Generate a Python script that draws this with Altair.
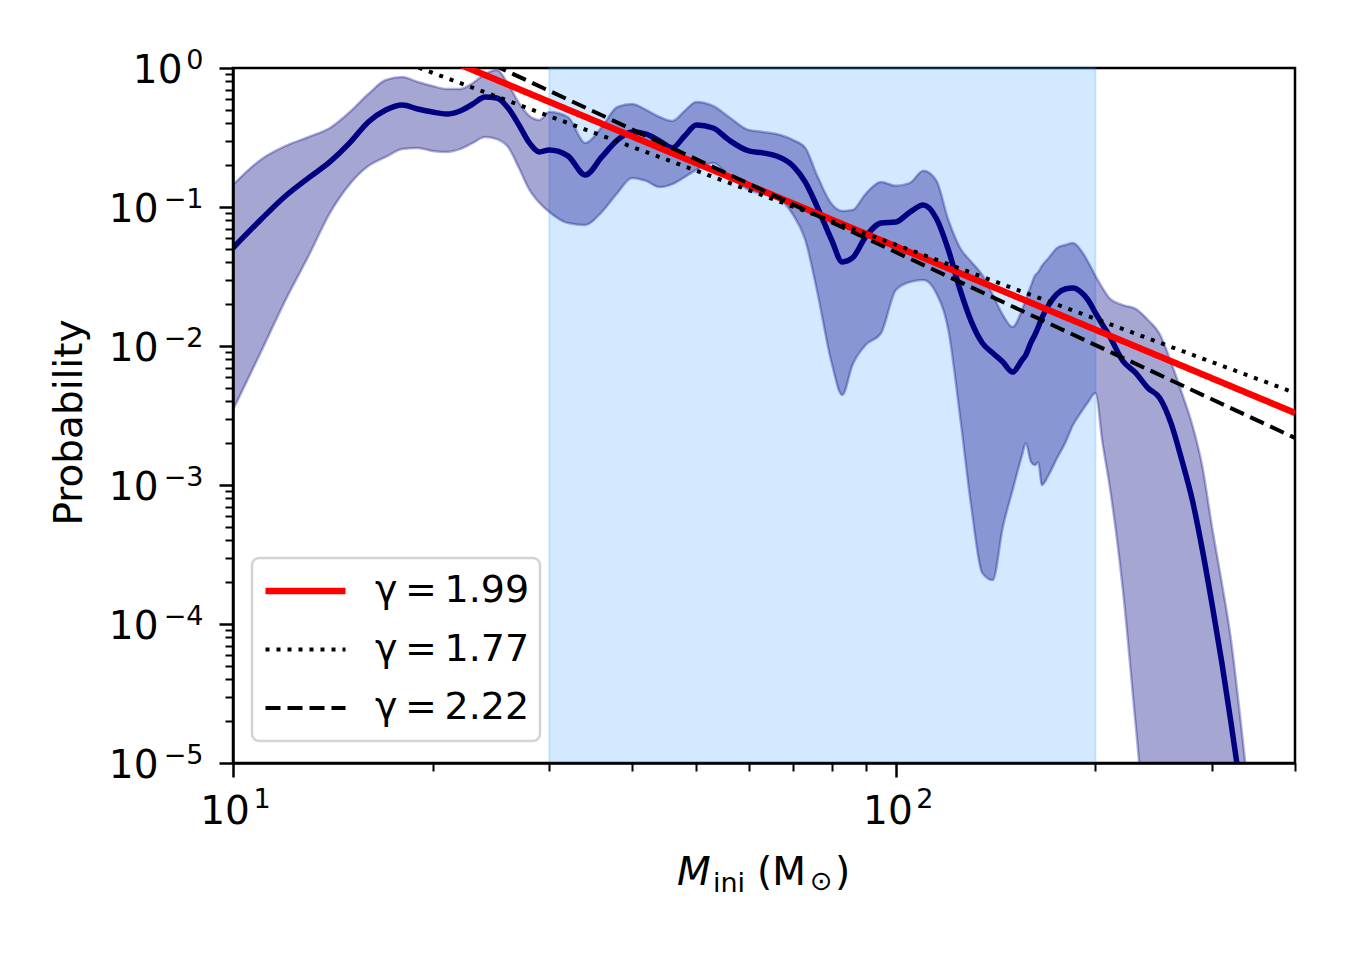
import math
import altair as alt
import pandas as pd

# ---------------- data ----------------
mass = [10, 11, 12, 13, 14, 15, 16, 17, 18, 19, 20, 21, 22, 23, 24, 25, 26, 27, 28, 29,
        30, 32, 34, 36, 38, 40, 42, 44, 46, 48, 50, 53, 56, 60, 63, 66, 70, 73, 76, 80,
        83, 86, 90, 95, 100, 105, 110, 115, 120, 125, 130, 135, 140, 145, 150, 155, 157,
        160, 162, 164, 166, 170, 175, 180, 185, 190, 195, 200, 205, 210, 220, 230, 240,
        250, 260, 270, 280, 290, 300, 310, 320, 330, 340]

median = [0.0507, 0.0806, 0.120, 0.162, 0.211, 0.289, 0.409, 0.499, 0.542, 0.507,
          0.482, 0.467, 0.491, 0.551, 0.618, 0.608, 0.515, 0.389, 0.289, 0.249,
          0.257, 0.233, 0.170, 0.229, 0.303, 0.347, 0.335, 0.299, 0.266, 0.324,
          0.389, 0.370, 0.303, 0.253, 0.245, 0.233, 0.197, 0.151, 0.1016, 0.0579,
          0.0402, 0.0430, 0.0608, 0.0767, 0.0780, 0.0920, 0.1033, 0.0834, 0.0491, 0.0253,
          0.0149, 0.0105, 0.0089, 0.00767, 0.00650, 0.00793, 0.00861,
          0.0107, 0.0120, 0.0137, 0.0159, 0.0197, 0.0237, 0.0257, 0.0261, 0.0245, 0.0214,
          0.0173, 0.0142, 0.0118, 0.0078, 0.0064, 0.00499,
          0.00423, 0.00279, 0.00151, 7.8e-4, 3.4e-4, 1.37e-4, 5.4e-5, 2.0e-5, 7.3e-6, 2.6e-6]

upper = [0.144, 0.218, 0.275, 0.319, 0.370, 0.482, 0.650, 0.820, 0.861, 0.793,
         0.742, 0.706, 0.706, 0.780, 0.905, 0.967, 0.767, 0.560, 0.452, 0.423,
         0.482, 0.444, 0.289, 0.376, 0.524, 0.551, 0.499, 0.444, 0.416, 0.491,
         0.569, 0.533, 0.444, 0.358, 0.347, 0.335, 0.303, 0.266, 0.170, 0.105,
         0.0936, 0.0951, 0.124, 0.151, 0.142, 0.149, 0.182, 0.156, 0.0806, 0.0507,
         0.0402, 0.0324, 0.0233, 0.0167, 0.0137, 0.0182, 0.0214,
         0.0275, 0.0319, 0.0341, 0.0376, 0.0430, 0.0507, 0.0533, 0.0551, 0.0491, 0.0402,
         0.0319, 0.0261, 0.0221, 0.0197, 0.0185, 0.0154,
         0.0122, 0.00767, 0.00459, 0.00270, 0.00135, 4.91e-4, 2.01e-4, 7.9e-5, 2.33e-5, 6.4e-6]

lower = [0.00347, 0.00891, 0.0214, 0.0444, 0.0905, 0.146, 0.197, 0.229, 0.261, 0.266,
         0.253, 0.249, 0.261, 0.289, 0.319, 0.308, 0.270, 0.191, 0.133, 0.107,
         0.0920, 0.0767, 0.0743, 0.0920, 0.126, 0.162, 0.154, 0.139, 0.146, 0.164,
         0.185, 0.207, 0.167, 0.133, 0.124, 0.118, 0.0876, 0.0579, 0.0253, 0.00755,
         0.00444, 0.00730, 0.01016, 0.0124, 0.0253, 0.0289, 0.0298, 0.0241, 0.0130, 0.00308,
         6.84e-4, 2.33e-4, 2.07e-4, 4.99e-4, 9.2e-4, 0.00164, 0.00200,
         0.00146, 0.00139, 0.00146, 0.00100, 0.00118, 0.00156, 0.00200, 0.00270, 0.00330, 0.00395,
         0.00459, 0.00200, 0.00100, 1.76e-4, 1.88e-5, 2.4e-6,
         1.0e-6, 5e-7, 3e-7, 2e-7, 1.5e-7, 1e-7, 8e-8, 6e-8, 5e-8, 4e-8]

span_lo, span_hi = 30, 200

gamma_labels = ["γ\u2009=\u20091.99", "γ\u2009=\u20091.77", "γ\u2009=\u20092.22"]
line_mass = [10, 400]
line_red = [5.08, 3.30e-3]     # gamma = 1.99
line_dot = [3.15, 4.60e-3]     # gamma = 1.77
line_dash = [7.85, 2.18e-3]    # gamma = 2.22

x_major = [10, 100]
x_major_base = ["10", "10"]
x_major_exp = ["1", "2"]
x_minor = [20, 30, 40, 50, 60, 70, 80, 90, 200, 300, 400]
y_major = [1e-5, 1e-4, 1e-3, 1e-2, 1e-1, 1]
y_major_base = ["10", "10", "10", "10", "10", "10"]
y_major_exp = ["\u22125", "\u22124", "\u22123", "\u22122", "\u22121", "0"]
y_minor = [k * 10.0 ** e for e in range(-5, 0) for k in range(2, 10)]

# ---------------- tables ----------------
assert len(mass) == len(median) == len(upper) == len(lower)
band = pd.DataFrame({"mass": mass, "median": median, "upper": upper, "lower": lower})
span = pd.DataFrame({"lo": [span_lo], "hi": [span_hi]})
fits = pd.DataFrame({
    "label": [gamma_labels[0]] * 2 + [gamma_labels[1]] * 2 + [gamma_labels[2]] * 2,
    "mass": line_mass * 3,
    "prob": line_red + line_dot + line_dash,
})

W, H = 1062, 695
FONT = "DejaVu Sans"


def label_expr(values, labels):
    parts = [f"abs(log(datum.value)/LN10 - ({math.log10(v):.4f})) < 0.01 ? '{l}' : "
             for v, l in zip(values, labels)]
    return "".join(parts) + "''"


xscale = alt.Scale(type="log", domain=[10, 400], nice=False)
yscale = alt.Scale(type="log", domain=[1e-5, 1], nice=False)

common = dict(grid=False, title=None, zindex=1, labelFont=FONT, labelColor="black",
              labelFlush=False, labelOverlap=False)

# major ticks + "10" mantissas
x_axis_major = alt.Axis(values=x_major, labelExpr=label_expr(x_major, x_major_base),
                        orient="bottom", tickSize=14, tickWidth=2.5, tickColor="black",
                        domain=True, domainColor="black", domainWidth=2.5,
                        labelFontSize=39, labelPadding=15, labelOffset=-8.5,
                        labelAlign="center", labelBaseline="top", **common)
y_axis_major = alt.Axis(values=y_major, labelExpr=label_expr(y_major, y_major_base),
                        orient="left", tickSize=14, tickWidth=2.5, tickColor="black",
                        domain=True, domainColor="black", domainWidth=2.5,
                        labelFontSize=39, labelAlign="right", labelBaseline="middle",
                        labelOffset=2,
                        labelPadding={"condition": {"test": "datum.value > 0.5", "value": 37},
                                      "value": 61},
                        grid=False, zindex=1, labelFont=FONT, labelColor="black",
                        labelFlush=False, labelOverlap=False,
                        title="Probability", titleFont=FONT,
                        titleFontSize=39, titleFontWeight="normal", titleColor="black",
                        titleAngle=270, titleX=-164, titleY=354, titleAlign="center",
                        titleBaseline="middle")
# minor ticks
x_axis_minor = alt.Axis(values=x_minor, orient="bottom", labels=False, tickSize=8,
                        tickWidth=2, tickColor="black", domain=False, grid=False,
                        title=None, zindex=1)
y_axis_minor = alt.Axis(values=y_minor, orient="left", labels=False, tickSize=8,
                        tickWidth=2, tickColor="black", domain=False, grid=False,
                        title=None, zindex=1)
# exponents (superscripts)
x_axis_exp = alt.Axis(values=x_major, labelExpr=label_expr(x_major, x_major_exp),
                      orient="bottom", ticks=False, tickSize=0, domain=False,
                      labelFontSize=27, labelPadding=23, labelOffset=28.5,
                      labelAlign="center", labelBaseline="top", **common)
y_axis_exp = alt.Axis(values=y_major, labelExpr=label_expr(y_major, y_major_exp),
                      orient="left", ticks=False, tickSize=0, domain=False,
                      labelFontSize=27, labelPadding=30, labelOffset=-8,
                      labelAlign="right", labelBaseline="middle", **common)

span_layer = alt.Chart(span).mark_rect(
    fill="#1e90ff", fillOpacity=0.2, stroke="#1e90ff", strokeOpacity=0.2, strokeWidth=2
).encode(
    x=alt.X("lo:Q", scale=xscale, axis=None),
    x2="hi:Q",
    y=alt.value(0),
    y2=alt.value(H),
)

band_layer = alt.Chart(band).mark_area(
    color="#000080", opacity=0.35, interpolate="monotone", clip=True
).encode(
    x=alt.X("mass:Q", scale=xscale, axis=x_axis_major),
    y=alt.Y("upper:Q", scale=yscale, axis=y_axis_major),
    y2="lower:Q",
)

upper_edge = alt.Chart(band).mark_line(
    color="#000080", opacity=0.3, strokeWidth=2.5, interpolate="monotone", clip=True
).encode(
    x=alt.X("mass:Q", scale=xscale, axis=x_axis_minor),
    y=alt.Y("upper:Q", scale=yscale, axis=y_axis_minor),
)

lower_edge = alt.Chart(band).mark_line(
    color="#000080", opacity=0.3, strokeWidth=2.5, interpolate="monotone", clip=True
).encode(
    x=alt.X("mass:Q", scale=xscale, axis=x_axis_exp),
    y=alt.Y("lower:Q", scale=yscale, axis=y_axis_exp),
)

median_layer = alt.Chart(band).mark_line(
    color="#000080", strokeWidth=5.5, interpolate="monotone", clip=True
).encode(
    x=alt.X("mass:Q", scale=xscale, axis=None),
    y=alt.Y("median:Q", scale=yscale, axis=None),
)

leg = alt.Legend(title=None, orient="none", legendX=19, legendY=490,
                 symbolType="stroke", symbolSize=6400, labelFontSize=38,
                 labelFont=FONT, labelColor="black", labelOffset=26,
                 fillColor="rgba(255,255,255,0.8)", strokeColor="#d3d3d3",
                 cornerRadius=7, padding=10, rowPadding=12.5, clipHeight=46)

fit_layer = alt.Chart(fits).mark_line(clip=True).encode(
    x=alt.X("mass:Q", scale=xscale, axis=None),
    y=alt.Y("prob:Q", scale=yscale, axis=None),
    color=alt.Color("label:N", sort=gamma_labels,
                    scale=alt.Scale(domain=gamma_labels, range=["#ff0000", "#000000", "#000000"]),
                    legend=leg),
    strokeDash=alt.StrokeDash("label:N", sort=gamma_labels,
                              scale=alt.Scale(domain=gamma_labels,
                                              range=[[1, 0], [4, 7], [15, 7]]),
                              legend=leg),
    strokeWidth=alt.StrokeWidth("label:N", sort=gamma_labels,
                                scale=alt.Scale(type="ordinal", domain=gamma_labels,
                                                range=[6.5, 4, 4]),
                                legend=leg),
)

# x-axis title pieces: italic M, subscript "ini", "(M", subscript sun, ")"
one = alt.Data(values=[{"k": 0}])


def piece(txt, x, y, size, style="normal"):
    return alt.Chart(one).mark_text(
        text=txt, font=FONT, fontSize=size, fontStyle=style, align="left",
        baseline="alphabetic", color="black"
    ).encode(x=alt.value(x), y=alt.value(y))


title_layers = [
    piece("M", 444, 817, 39, "italic"),
    piece("ini", 480, 824, 27),
    piece("(M", 524, 817, 39),
    piece("\u2299", 577, 822, 27),
    piece(")", 602, 817, 39),
]

chart = alt.layer(
    span_layer, band_layer, upper_edge, lower_edge, median_layer, fit_layer, *title_layers
).resolve_axis(
    x="independent", y="independent"
).properties(
    width=W, height=H,
    autosize=alt.AutoSizeParams(type="none"),
    padding={"left": 225, "top": 60, "right": 47, "bottom": 189},
).configure_view(
    stroke="black", strokeWidth=2.5
).configure_legend(
    strokeWidth=2.5
)

chart.save("out.html", embed_options={"renderer": "svg", "actions": False})
